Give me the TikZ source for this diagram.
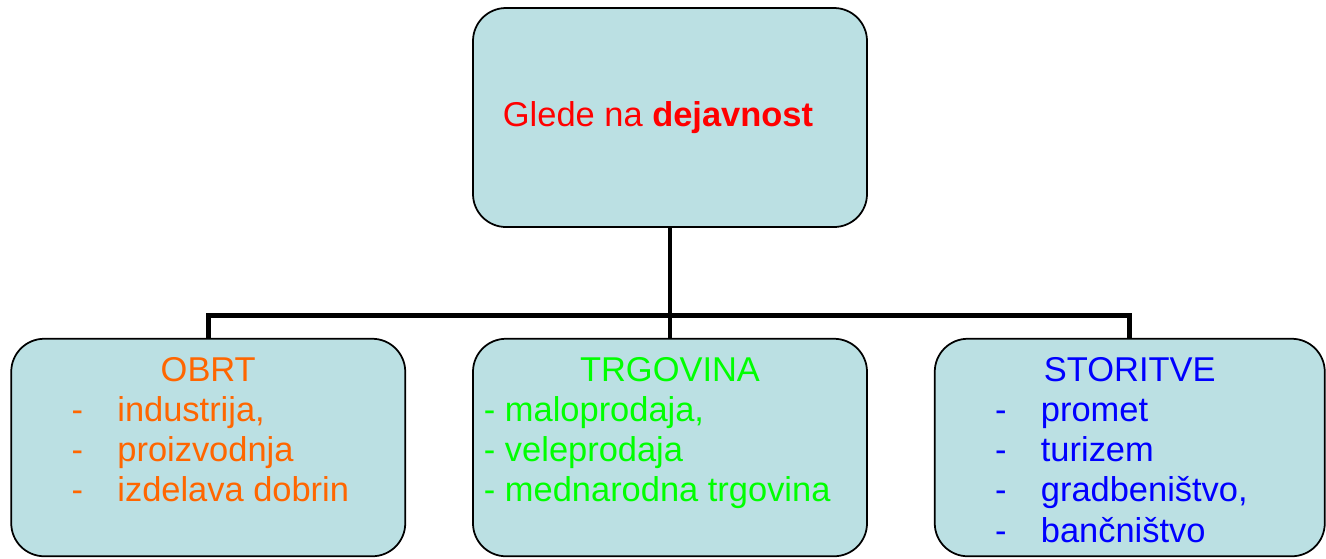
\documentclass[tikz,border=0pt]{standalone}
\usepackage{fontspec}
\setmainfont{Liberation Sans}
\usetikzlibrary{positioning, calc}

\definecolor{boxfill}{RGB}{187,224,227}
\definecolor{headcol}{RGB}{255,0,0}
\definecolor{obrtcol}{RGB}{255,102,0}
\definecolor{trgcol}{RGB}{0,255,0}
\definecolor{storcol}{RGB}{0,0,255}

\newcommand{\dashitem}[1]{\makebox[26pt][l]{-}#1}

\begin{document}
\begin{tikzpicture}[
    node distance = 2.2cm and 1.32cm,
    font=\fontsize{19.6}{22.85}\selectfont,
    box/.style = {draw, line width=1pt, fill=boxfill, rounded corners=0.66cm, minimum width=7.88cm, minimum height=4.35cm, inner sep=0pt},
    head/.style = {anchor=base, inner sep=0pt},
    list/.style = {anchor=base west, inner sep=0pt},
    conn/.style = {line width=2.8pt}
]

\useasboundingbox (0,0) rectangle (26.52,-11.16);

% =========================================================
% TOP BOX
% =========================================================
\node[box, minimum height=4.38cm, text=headcol] (glede) at (13.4,-2.35) {Glede na \textbf{dejavnost}\hspace*{0.48cm}};

% =========================================================
% BOTTOM ROW
% =========================================================
\node[box, below=2.2cm of glede] (trg) {};
\node[box, left=1.32cm of trg] (obrt) {};
\node[box, right=1.32cm of trg, minimum width=7.8cm] (stor) {};

% =========================================================
% WIRING
% =========================================================
\draw[conn] (glede) -- (trg);
\coordinate (bus) at ($(glede.south)!0.8!(trg.north)$);
\draw[conn] (obrt.north) |- (bus) -| (stor.north);

% =========================================================
% TEXTS
% =========================================================
% OBRT
\node[head, text=obrtcol] (obrthead) at ([yshift=-0.874cm]obrt.north) {OBRT};
\node[list, text=obrtcol] (obrtlist) at ([xshift=1.22cm, yshift=-1.674cm]obrt.north west) {\begin{tabular}[t]{@{}l@{}}
    \dashitem{industrija,}\\
    \dashitem{proizvodnja}\\
    \dashitem{izdelava dobrin}
\end{tabular}};

% TRGOVINA
\node[head, text=trgcol] (trghead) at ([yshift=-0.874cm]trg.north) {TRGOVINA};
\node[list, text=trgcol] (trglist) at ([xshift=0.23cm, yshift=-1.674cm]trg.north west) {\begin{tabular}[t]{@{}l@{}}
    - maloprodaja,\\
    - veleprodaja\\
    - mednarodna trgovina
\end{tabular}};

% STORITVE
\node[head, text=storcol] (storhead) at ([yshift=-0.874cm]stor.north) {STORITVE};
\node[list, text=storcol] (storlist) at ([xshift=1.22cm, yshift=-1.674cm]stor.north west) {\begin{tabular}[t]{@{}l@{}}
    \dashitem{promet}\\
    \dashitem{turizem}\\
    \dashitem{gradbeništvo,}\\
    \dashitem{bančništvo}
\end{tabular}};

\end{tikzpicture}
\end{document}
